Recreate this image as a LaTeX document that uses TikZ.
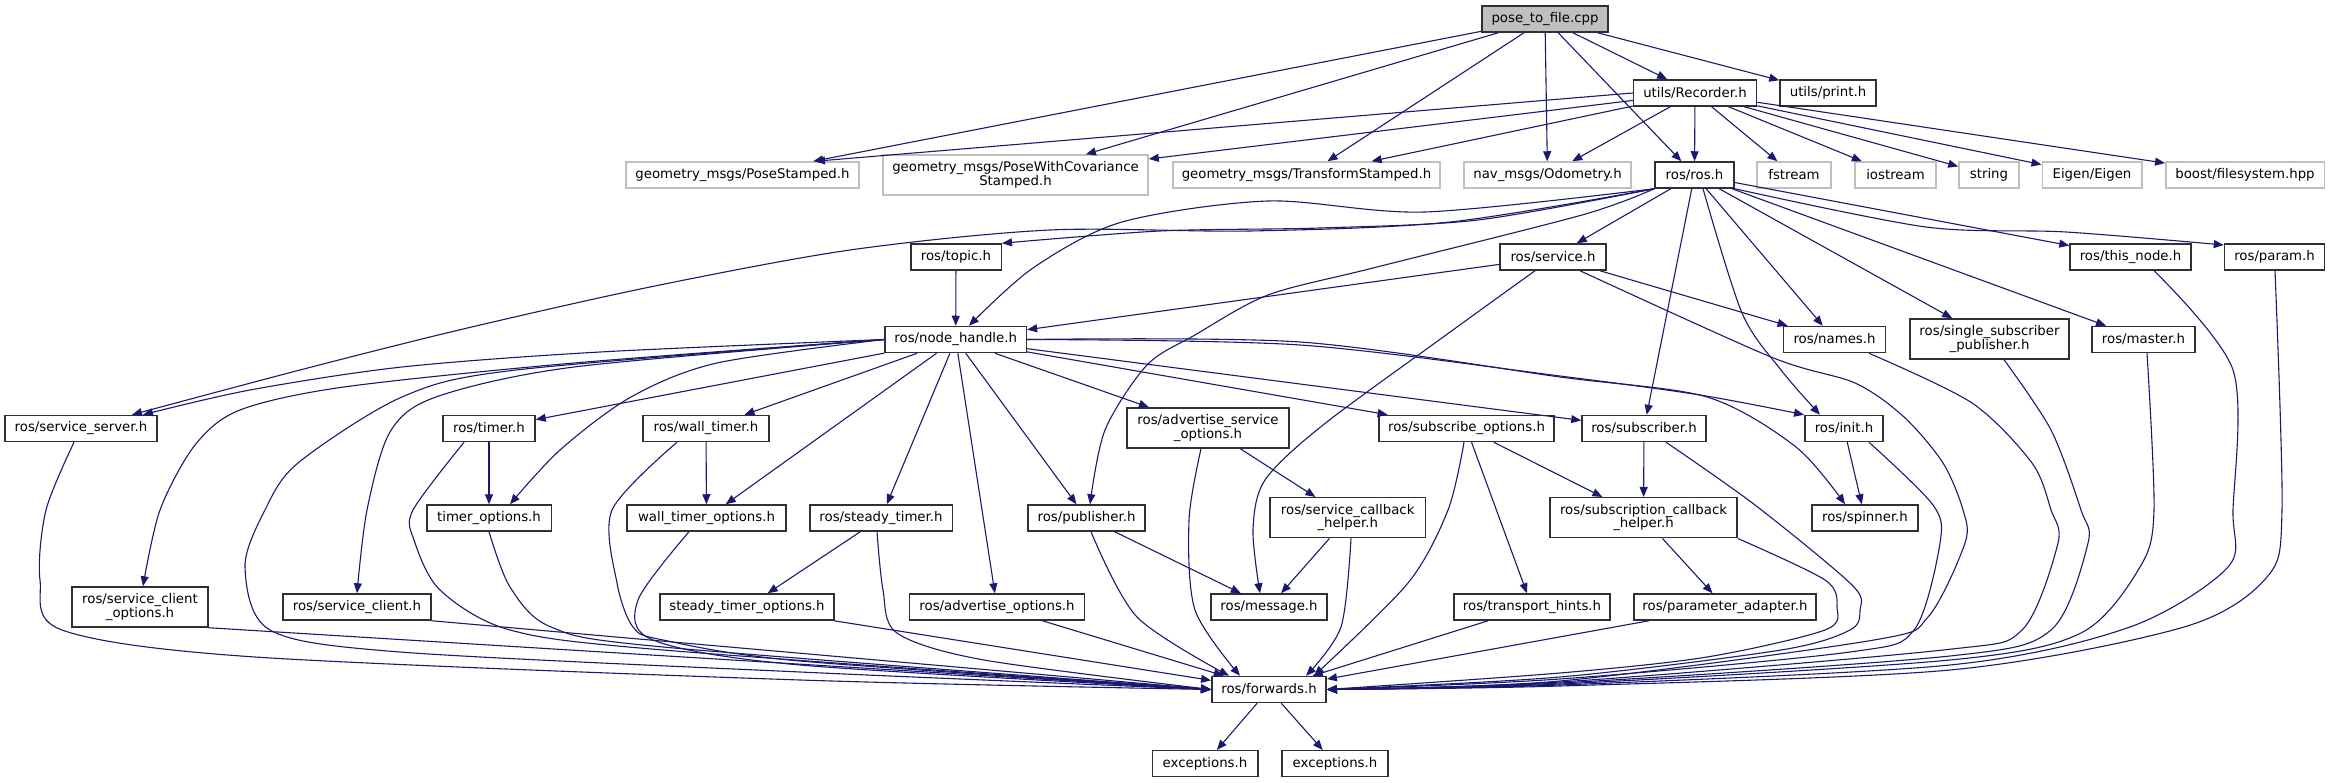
\documentclass[tikz,border=0pt]{standalone}
\usepackage{fontspec}
\setmainfont{DejaVu Sans}
\usetikzlibrary{arrows.meta}
\definecolor{edgeblue}{HTML}{191970}
\definecolor{boxline}{HTML}{303030}
\definecolor{extline}{HTML}{BFBFBF}
\definecolor{rootfill}{HTML}{BFBFBF}
\tikzset{
  box/.style={draw=boxline,line width=1.5pt,fill=white,minimum height=26pt,
    inner xsep=2pt,inner ysep=1pt,font=\fontsize{13.3}{13.4}\selectfont},
  ext/.style={box,draw=extline},
  root/.style={box,fill=rootfill},
  two/.style={minimum height=40pt,align=center},
  wd/.style={minimum width=#1pt},
  dep/.style={draw=edgeblue,line width=1.1pt,-{Triangle[length=10pt,width=8pt]}},
}
\begin{document}
\begin{tikzpicture}[x=1pt,y=-1pt]
\useasboundingbox (0,0) rectangle (2330,783);
% files
\node[root,wd=126] (pose) at (1545,19) {pose\_to\_file.cpp};
\node[box,wd=123] (rec) at (1695,93) {utils/Recorder.h};
\node[box,wd=96] (prt) at (1828,93) {utils/print.h};
\node[ext,wd=233] (gps) at (742.5,175) {geometry\_msgs/PoseStamped.h};
\node[ext,two,wd=265] (gpwc) at (1015.5,175) {geometry\_msgs/PoseWithCovariance\\Stamped.h};
\node[ext,wd=267] (gts) at (1306.5,175) {geometry\_msgs/TransformStamped.h};
\node[ext,wd=167] (odom) at (1547.5,175) {nav\_msgs/Odometry.h};
\node[box,wd=79] (ros) at (1694.5,175) {ros/ros.h};
\node[ext,wd=74] (fstr) at (1794,175) {fstream};
\node[ext,wd=81] (iostr) at (1895.5,175) {iostream};
\node[ext,wd=60] (str) at (1989,175) {string};
\node[ext,wd=99.5] (eigen) at (2092,175) {Eigen/Eigen};
\node[ext,wd=158.5] (boost) at (2245,175) {boost/filesystem.hpp};
\node[box,wd=90.5] (topic) at (956,257) {ros/topic.h};
\node[box,wd=106] (service) at (1553,257) {ros/service.h};
\node[box,wd=121] (thisnode) at (2130.5,257) {ros/this\_node.h};
\node[box,wd=100] (param) at (2274.5,257) {ros/param.h};
\node[box,wd=141.4] (nh) at (955.7,339.5) {ros/node\_handle.h};
\node[box,wd=102] (names) at (1834.5,339.5) {ros/names.h};
\node[box,two,wd=159] (ssp) at (1989.5,339) {ros/single\_subscriber\\\_publisher.h};
\node[box,wd=103] (master) at (2143.5,339.5) {ros/master.h};
\node[box,wd=152] (srvserver) at (81,428.5) {ros/service\_server.h};
\node[box,wd=92] (timer) at (489,428.5) {ros/timer.h};
\node[box,wd=126] (walltimer) at (706,428.5) {ros/wall\_timer.h};
\node[box,two,wd=161.7] (aso) at (1208,428) {ros/advertise\_service\\\_options.h};
\node[box,wd=175] (subopt) at (1466.5,428.5) {ros/subscribe\_options.h};
\node[box,wd=124] (subscriber) at (1644,428.5) {ros/subscriber.h};
\node[box,wd=78.4] (init) at (1844,428.5) {ros/init.h};
\node[box,wd=124.5] (timeropt) at (489,518) {timer\_options.h};
\node[box,wd=159] (wtopt) at (706.5,518) {wall\_timer\_options.h};
\node[box,wd=142.5] (steady) at (881,518) {ros/steady\_timer.h};
\node[box,wd=117] (publisher) at (1086.5,518) {ros/publisher.h};
\node[box,two,wd=155.4] (scbh) at (1347.7,517.7) {ros/service\_callback\\\_helper.h};
\node[box,two,wd=187] (subcbh) at (1643.5,517.7) {ros/subscription\_callback\\\_helper.h};
\node[box,wd=106] (spinner) at (1865,518) {ros/spinner.h};
\node[box,two,wd=136] (scopt) at (140,607) {ros/service\_client\\\_options.h};
\node[box,wd=148] (sclient) at (357,607) {ros/service\_client.h};
\node[box,wd=174] (stopt) at (747,607) {steady\_timer\_options.h};
\node[box,wd=174.6] (advopt) at (997,607) {ros/advertise\_options.h};
\node[box,wd=116.4] (message) at (1269,607) {ros/message.h};
\node[box,wd=156] (thints) at (1532,607) {ros/transport\_hints.h};
\node[box,wd=182] (padapt) at (1725,607) {ros/parameter\_adapter.h};
\node[box,wd=114.4] (fwd) at (1269,689.5) {ros/forwards.h};
\node[box,wd=105.5] (exc1) at (1205,763.7) {exceptions.h};
\node[box,wd=105.7] (exc2) at (1335,763.7) {exceptions.h};
% straight includes
\foreach \t in {gps,gpwc,gts,odom,ros,rec,prt} \draw[dep] (pose) -- (\t);
\draw[dep] (rec.west) -- (815,0 |- gps.north);
\foreach \t in {gpwc,gts,odom,ros,fstr,iostr,str,eigen,boost} \draw[dep] (rec) -- (\t);
\foreach \t in {service,subscriber,names,ssp,master,thisnode} \draw[dep] (ros) -- (\t);
\foreach \t in {timer,walltimer,wtopt,steady,advopt,publisher,aso,subopt,subscriber} \draw[dep] (nh) -- (\t);
\foreach \s/\t in {topic/nh,service/nh,service/names,timer/timeropt,walltimer/wtopt,steady/stopt,
  publisher/message,scbh/message,aso/scbh,subopt/thints,subopt/subcbh,subscriber/subcbh,
  subcbh/padapt,init/spinner,stopt/fwd,advopt/fwd,thints/fwd,padapt/fwd,fwd/exc1,fwd/exc2}
  \draw[dep] (\s) -- (\t);
\draw[dep] (scopt.south east) -- (fwd.west);
\draw[dep] (sclient.south east) -- (fwd.west);
% curved includes
\draw[dep] plot[smooth] coordinates {(ros.south west) (1478,220) (1320,228) (1160,231) (topic.north east)};
\draw[dep] plot[smooth] coordinates {(ros.south west) (1425,212) (1268,201) (1122,222) (1033,268) (969,0 |- nh.north)};
\draw[dep] plot[smooth] coordinates {(ros.south west) (1450,222) (1250,231) (1050,230) (850,250) (650,287) (459,330) (300,370) (132,0 |- srvserver.north)};
\draw[dep] plot[smooth] coordinates {(ros.south west) (1582,215) (1373,268) (1268,295) (1195,335) (1147,365) (1105,430) (1090,0 |- publisher.north)};
\draw[dep] plot[smooth] coordinates {(1703,0 |- ros.south) (1742,313) (1781,370) (1820,0 |- init.north)};
\draw[dep] plot[smooth] coordinates {(ros.south east) (1926,227) (2066,232) (param.west |- 0,245)};
\draw[dep] plot[smooth] coordinates {(nh.west) (600,352) (402,367) (250,390) (143,0 |- srvserver.north)};
\draw[dep] plot[smooth] coordinates {(nh.west) (574,363) (344,387) (240,410) (195,445) (160,510) (143,0 |- scopt.north)};
\draw[dep] plot[smooth] coordinates {(nh.west) (574,367) (436,397) (390,432) (367,510) (357,0 |- sclient.north)};
\draw[dep] plot[smooth] coordinates {(nh.west) (717,363) (631,397) (560,450) (510,0 |- timeropt.north)};
\draw[dep] plot[smooth] coordinates {(nh.east) (1300,345) (1560,376) (1700,395) (init.north west)};
\draw[dep] plot[smooth] coordinates {(nh.east) (1300,342) (1560,377) (1707,397) (1796,447) (1845,0 |- spinner.north)};
\draw[dep] plot[smooth] coordinates {(1535,0 |- service.south) (1446,335) (1323,425) (1265,480) (1253,530) (1260,0 |- message.north)};
% into ros/forwards.h
\draw[dep] plot[smooth] coordinates {(nh.west) (516,370) (402,397) (298,463) (265,510) (245,567) (270,630) (400,652) (800,672) (fwd.west)};
\draw[dep] plot[smooth] coordinates {(74,0 |- srvserver.south) (46,510) (40,580) (62,630) (255,657) (800,680) (fwd.west)};
\draw[dep] plot[smooth] coordinates {(464,0 |- timer.south) (413,510) (414,540) (440,590) (510,630) (663,650) (fwd.west)};
\draw[dep] plot[smooth] coordinates {(timeropt.south) (510,587) (551,627) (663,647) (fwd.west)};
\draw[dep] plot[smooth] coordinates {(677,0 |- walltimer.south) (612,510) (617,583) (633,627) (663,640) (800,661) (fwd.west)};
\draw[dep] plot[smooth] coordinates {(689,0 |- wtopt.south) (638,600) (653,640) (800,665) (fwd.west)};
\draw[dep] plot[smooth] coordinates {(877,0 |- steady.south) (883,590) (897,633) (984,660) (fwd.west)};
\draw[dep] plot[smooth] coordinates {(1091,0 |- publisher.south) (1137,617) (1229,0 |- fwd.north)};
\draw[dep] plot[smooth] coordinates {(1201,0 |- aso.south) (1189,520) (1195,610) (1240,0 |- fwd.north)};
\draw[dep] plot[smooth] coordinates {(1351,0 |- scbh.south) (1341,627) (1306,0 |- fwd.north)};
\draw[dep] plot[smooth] coordinates {(1464,0 |- subopt.south) (1448,510) (1408,583) (1314,0 |- fwd.north)};
\draw[dep] plot[smooth] coordinates {(subcbh.south east) (1825,580) (1837,607) (1825,630) (1707,657) (1560,673) (fwd.east)};
\draw[dep] plot[smooth] coordinates {(1666,0 |- subscriber.south) (1755,505) (1852,585) (1860,610) (1850,630) (1781,650) (1560,677) (fwd.east)};
\draw[dep] plot[smooth] coordinates {(1869,0 |- init.south) (1933,505) (1940,543) (1914,630) (1850,652) (1560,679) (fwd.east)};
\draw[dep] plot[smooth] coordinates {(1580,0 |- service.south) (1771,357) (1855,383) (1904,417) (1943,463) (1963,510) (1965,543) (1928,617) (1874,640) (1560,681) (fwd.east)};
\draw[dep] plot[smooth] coordinates {(1869,0 |- names.south) (1972,403) (2032,463) (2051,510) (2058,543) (2022,630) (1943,650) (1560,682) (fwd.east)};
\draw[dep] plot[smooth] coordinates {(2004,0 |- ssp.south) (2051,430) (2081,510) (2088,543) (2051,630) (1950,656) (1560,683) (fwd.east)};
\draw[dep] plot[smooth] coordinates {(2147,0 |- master.south) (2154,510) (2140,567) (2081,633) (1950,660) (1560,684) (fwd.east)};
\draw[dep] plot[smooth] coordinates {(2154,0 |- thisnode.south) (2233,370) (2233,510) (2228,567) (2130,627) (1950,665) (1560,685) (fwd.east)};
\draw[dep] plot[smooth] coordinates {(2275,0 |- param.south) (2282,510) (2267,577) (2184,627) (1950,670) (1560,686) (fwd.east)};
\end{tikzpicture}
\end{document}
